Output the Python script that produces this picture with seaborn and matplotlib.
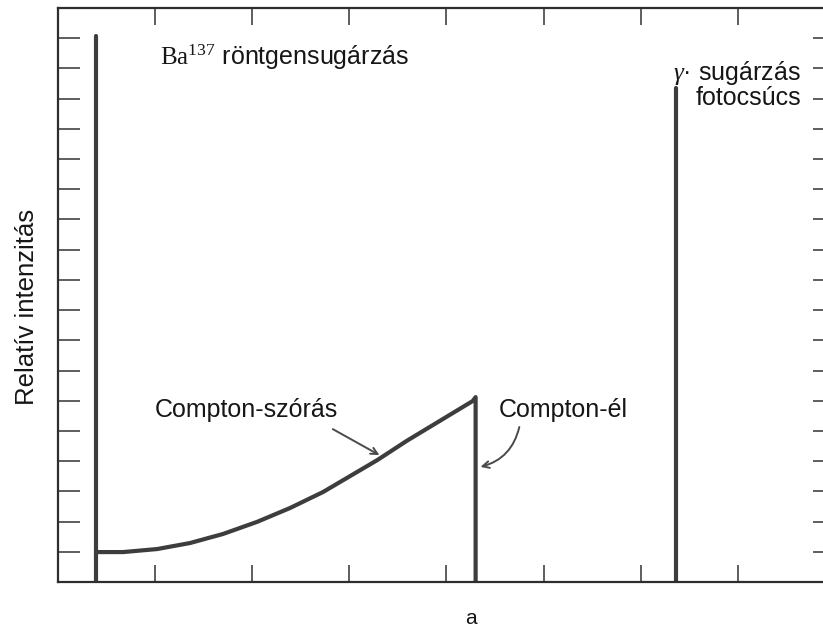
import matplotlib
matplotlib.use('Agg')
import matplotlib.pyplot as plt
import numpy as np
import pandas as pd
import seaborn as sns

# spektrum adatai (tengely egysegekben, x: 0..8, y: 0..19)
ba_x = 0.39
ba_top = 18.08
compton_x = [0.39, 0.67, 1.02, 1.36, 1.70, 2.05, 2.39, 2.73, 3.01, 3.29, 3.59, 3.93, 4.27, 4.30]
compton_y = [0.99, 0.99, 1.09, 1.29, 1.59, 1.99, 2.45, 2.98, 3.51, 4.04, 4.67, 5.33, 5.99, 6.12]
gamma_x = 6.36
gamma_top = 16.36

x_ticks = [1, 2, 3, 4, 5, 6, 7]
y_ticks = list(range(1, 19))

LINE_COLOR = '#3d3d3d'
TEXT_COLOR = '#161616'
ARROW_COLOR = '#4a4a4a'
FS = 18

sns.set_theme(style='ticks')
plt.rcParams['font.family'] = ['Liberation Sans', 'DejaVu Sans']
plt.rcParams['mathtext.fontset'] = 'custom'
plt.rcParams['mathtext.rm'] = 'Liberation Serif'
plt.rcParams['mathtext.it'] = 'Liberation Serif:italic'

# szakaszok egy tablaban
rows = [('ba', ba_x, 0.0), ('ba', ba_x, ba_top)]
rows += [('compton', x, y) for x, y in zip(compton_x, compton_y)]
rows += [('compton', compton_x[-1], 0.0)]
rows += [('gamma', gamma_x, 0.0), ('gamma', gamma_x, gamma_top)]
df = pd.DataFrame(rows, columns=['seg', 'x', 'y'])

fig = plt.figure(figsize=(8.23, 6.27), dpi=100)
ax = fig.add_axes([0.0705, 0.0718, 0.944, 0.9154])

sns.lineplot(data=df, x='x', y='y', units='seg', estimator=None, sort=False,
             color=LINE_COLOR, linewidth=3.0, ax=ax,
             solid_joinstyle='round')

ax.set_xlim(0, 8)
ax.set_ylim(0, 19)
ax.set_xticks(x_ticks)
ax.set_yticks(y_ticks)
ax.set_xticklabels([])
ax.set_yticklabels([])
ax.tick_params(axis='x', direction='in', length=12, width=1.1, color='#333333',
               top=True, bottom=True)
ax.tick_params(axis='y', direction='in', length=16, width=1.1, color='#333333',
               left=True, right=True)
for sp in ax.spines.values():
    sp.set_visible(True)
    sp.set_linewidth(1.6)
    sp.set_color('#2e2e2e')

# feliratok
ax.set_ylabel('Relatív intenzitás', fontsize=18.5, color=TEXT_COLOR)
ax.yaxis.set_label_coords(-0.040, 0.479)
ax.yaxis.label.set_verticalalignment('center')
ax.set_xlabel('a', fontsize=15, color=TEXT_COLOR)
ax.xaxis.set_label_coords(0.532, -0.064)
ax.xaxis.label.set_verticalalignment('center')

ax.text(1.05, 17.12, r'$\mathrm{Ba}^{137}$ röntgensugárzás', fontsize=FS,
        color=TEXT_COLOR, va='baseline', ha='left')
ax.text(7.65, 16.62, r'$\gamma$· sugárzás', fontsize=FS,
        color=TEXT_COLOR, va='baseline', ha='right')
ax.text(7.65, 15.79, 'fotocsúcs', fontsize=FS,
        color=TEXT_COLOR, va='baseline', ha='right')

ax.text(1.0, 5.46, 'Compton-szórás', fontsize=FS, color=TEXT_COLOR,
        va='baseline', ha='left')
ax.text(4.54, 5.46, 'Compton-él', fontsize=FS, color=TEXT_COLOR,
        va='baseline', ha='left')
ax.annotate('', xy=(3.31, 4.20), xytext=(2.83, 5.06),
            arrowprops=dict(arrowstyle='->', color=ARROW_COLOR, lw=1.4,
                            shrinkA=0, shrinkB=0))
ax.annotate('', xy=(4.35, 3.81), xytext=(4.75, 5.13),
            arrowprops=dict(arrowstyle='->', color=ARROW_COLOR, lw=1.4,
                            shrinkA=0, shrinkB=0,
                            connectionstyle='arc3,rad=-0.3'))

plt.savefig('out.png', dpi=100)
plt.close()
